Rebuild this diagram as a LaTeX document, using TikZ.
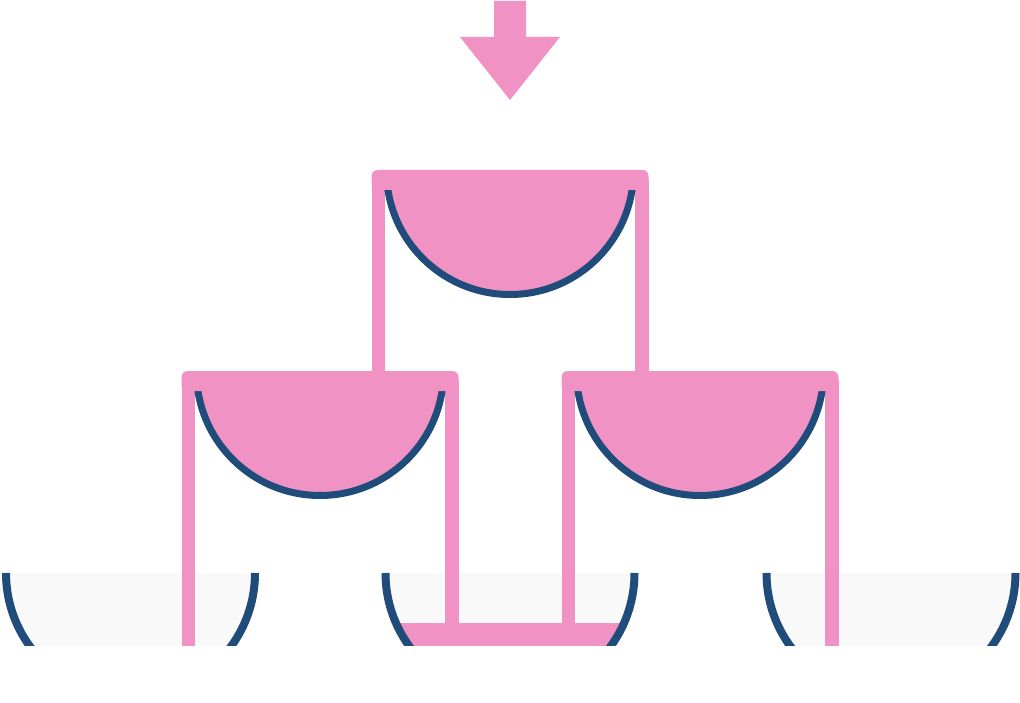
\documentclass[tikz,border=0pt]{standalone}
\usepackage{tikz}
\definecolor{rosa}{HTML}{F093C4}
\definecolor{marine}{HTML}{1F4C7A}
\definecolor{leer}{HTML}{F9F9F9}
\tikzset{glasrand/.style={marine,line width=7pt},
  bodenrand/.style={marine,line width=8pt},
  steg/.style={rosa,rounded corners=6pt}}
\newcommand{\vollkelch}[2]{%
  \fill[rosa] ({#1-121},{#2+1}) arc[start angle=180,end angle=0,radius=121] -- cycle;
  \draw[glasrand] ({#1-123.5},{#2+1}) arc[start angle=180,end angle=0,radius=123.5];
  \fill[steg] ({#1-138.5},{#2+20}) rectangle ({#1+138.5},#2);}
\newcommand{\beine}[4]{%
  \fill[rosa] ({#1-138.5},{#2+10}) rectangle ({#1-125},#3);
  \fill[rosa] ({#1+125},{#2+10}) rectangle ({#1+138.5},#4);}
\newcommand{\leerglas}[1]{%
  \fill[leer] ({#1-124.5},573) arc[start angle=180,end angle=0,radius=124.5] -- cycle;}
\newcommand{\glasrand}[1]{%
  \draw[bodenrand] ({#1-124.5},573) arc[start angle=180,end angle=0,radius=124.5];}

\begin{document}
\begin{tikzpicture}[x=1pt,y=-1pt]
\useasboundingbox (0,0) rectangle (1020,703);
\clip (0,0) rectangle (1020,645);
\fill[rosa] (494,1) -- (526,1) -- (526,37) -- (560,37) -- (510,100) -- (460,37) -- (494,37) -- cycle;
\leerglas{130.5}
\leerglas{510}
\leerglas{891}
\begin{scope}
  \clip (386,573) arc[start angle=180,end angle=0,radius=124] -- cycle;
  \fill[rosa] (380,622.7) rectangle (640,650);
\end{scope}
\beine{320}{371}{650}{626}
\beine{700}{371}{626}{650}
\glasrand{130.5}
\glasrand{510}
\glasrand{891}
\beine{510}{170}{376}{376}
\vollkelch{510}{170}
\vollkelch{320}{371}
\vollkelch{700}{371}
\end{tikzpicture}
\end{document}
